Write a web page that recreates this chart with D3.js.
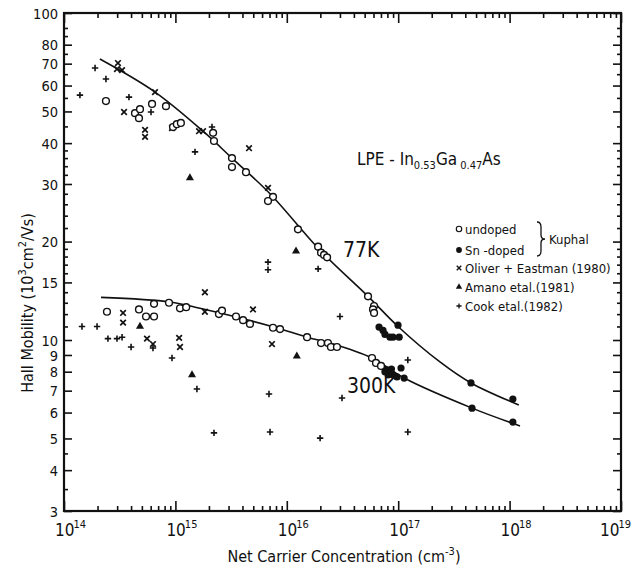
<!DOCTYPE html>
<html>
<head>
<meta charset="utf-8">
<script src="https://cdn.jsdelivr.net/npm/d3@7"></script>
<style>
  body { margin: 0; background: #fff; }
  svg text { font-family: "DejaVu Sans Condensed", "Liberation Sans Narrow", "DejaVu Sans", sans-serif; fill: #111; }
</style>
</head>
<body>
<div id="chart-area"></div>
<script>
// Hall mobility of LPE InGaAs vs net carrier concentration, 77 K and 300 K

// [concentration cm^-3, mobility 10^3 cm2/Vs]
const undoped = [
  [2.38e14, 53.8], [4.34e14, 49.4], [4.71e14, 47.7], [4.81e14, 50.8], [6.17e14, 52.7], [8.23e14, 51.9],
  [9.52e14, 44.8], [1.03e15, 45.7], [1.12e15, 46.1], [2.18e15, 43.0], [2.22e15, 40.6], [3.22e15, 36.0],
  [3.22e15, 33.8], [4.30e15, 32.6], [7.52e15, 27.4], [6.78e15, 26.6], [1.26e16, 21.8], [1.91e16, 19.3],
  [2.03e16, 18.5], [2.16e16, 18.2], [2.30e16, 17.9], [5.36e16, 13.6], [6.07e16, 12.7], [5.94e16, 12.4],
  [6.07e16, 12.1],
  [2.43e14, 12.2], [4.71e14, 12.4], [5.45e14, 11.8], [6.43e14, 11.8], [6.43e14, 12.9], [8.76e14, 13.0],
  [1.10e15, 12.5], [1.25e15, 12.6], [2.46e15, 12.0], [2.62e15, 12.3], [3.50e15, 11.8], [4.05e15, 11.5],
  [4.67e15, 11.2], [7.52e15, 10.9], [8.69e15, 10.8], [1.52e16, 10.2], [2.03e16, 9.79], [2.34e16, 9.79],
  [2.49e16, 9.52], [2.82e16, 9.52], [5.82e16, 8.81], [6.32e16, 8.51], [7.01e16, 8.33]
];
const snDoped = [
  [6.73e16, 10.95], [7.31e16, 10.7], [7.61e16, 10.4], [8.44e16, 10.2], [8.98e16, 10.2], [1.02e17, 10.2],
  [9.96e16, 11.1], [4.50e17, 7.39], [1.07e18, 6.60],
  [7.94e16, 8.10], [8.44e16, 7.98], [8.98e16, 7.82], [8.10e16, 7.82], [9.75e16, 7.71], [1.06e17, 8.21],
  [1.13e17, 7.65], [7.6e16, 8.0], [8.7e16, 8.15], [4.60e17, 6.19], [1.07e18, 5.61]
];
const oliver = [
  [3.05e14, 70.3], [2.99e14, 67.4], [3.32e14, 66.9], [6.56e14, 57.3], [3.46e14, 49.8], [5.34e14, 43.9],
  [5.34e14, 41.8], [9.32e14, 44.5], [1.63e15, 43.5], [1.77e15, 43.5], [4.58e15, 38.6], [6.78e15, 29.2],
  [3.39e14, 12.1], [3.39e14, 11.3], [5.56e14, 10.1], [6.29e14, 9.72], [1.08e15, 10.15], [1.10e15, 9.52],
  [1.84e15, 14.0], [1.84e15, 12.2], [4.97e15, 12.4], [7.36e15, 9.72]
];
const amano = [[1.35e15, 31.3], [1.21e16, 18.7], [4.81e14, 11.0], [1.41e15, 7.82], [1.23e16, 8.93]];
const cook = [
  [1.39e14, 56.1], [1.90e14, 67.9], [2.38e14, 62.8], [3.83e14, 55.3], [6.04e14, 49.8], [1.50e15, 37.6],
  [2.13e15, 44.8], [6.78e15, 17.3], [6.78e15, 16.4], [1.91e16, 16.5], [3.00e16, 11.8],
  [1.45e14, 11.0], [1.98e14, 11.0], [2.48e14, 10.1], [2.99e14, 10.1], [3.32e14, 10.2], [4.00e14, 9.52],
  [6.29e14, 9.45], [9.32e14, 8.81], [1.56e15, 7.08], [2.22e15, 5.20], [6.92e15, 6.84], [7.07e15, 5.23],
  [1.99e16, 5.01], [3.13e16, 6.65], [1.22e17, 5.23], [1.22e17, 8.69]
];
// hand-drawn fit curves
const fit77 = [
  [2.10e14, 72.3], [6.56e14, 57.3], [1.77e15, 43.5], [3.22e15, 36.0], [7.07e15, 28.0], [1.99e16, 18.8],
  [5.36e16, 13.6], [9.96e16, 11.0], [2.37e17, 8.57], [4.50e17, 7.39], [1.21e18, 6.33]
];
const fit300 = [
  [2.15e14, 13.5], [8.94e14, 13.07], [1.66e15, 12.5], [7.36e15, 11.0], [1.52e16, 10.2], [2.44e16, 9.79],
  [5.82e16, 8.81], [1.13e17, 7.65], [4.60e17, 6.19], [1.24e18, 5.46]
];

const yLabels = [3, 4, 5, 6, 7, 8, 9, 10, 15, 20, 30, 40, 50, 60, 70, 80, 100];
const yMinor = [3.5, 4.5, 11, 12, 13, 14, 16, 17, 18, 19, 22, 24, 26, 28, 32, 34, 36, 38, 45, 55, 65, 75, 85, 90];
const xDecades = [14, 15, 16, 17, 18, 19];
const xMinorMult = [2, 3, 4, 5, 6, 7, 8, 9];

const legendItems = [
  { sym: "circle", label: "undoped" },
  { sym: "dot", label: "Sn -doped" },
  { sym: "x", label: "Oliver + Eastman (1980)" },
  { sym: "tri", label: "Amano etal.(1981)" },
  { sym: "plus", label: "Cook etal.(1982)" }
];

const MARGIN = { LEFT: 64, RIGHT: 11, TOP: 13, BOTTOM: 60 };
const WIDTH = 632 - MARGIN.LEFT - MARGIN.RIGHT;
const HEIGHT = 571 - MARGIN.TOP - MARGIN.BOTTOM;

const x = d3.scaleLog().domain([1e14, 1e19]).range([0, WIDTH]);
const y = d3.scaleLog().domain([3, 100]).range([HEIGHT, 0]);

const svg = d3.select("#chart-area").append("svg")
  .attr("width", 632)
  .attr("height", 571)
  .style("background", "#fff");

const g = svg.append("g")
  .attr("transform", `translate(${MARGIN.LEFT}, ${MARGIN.TOP})`);

const majorX = xDecades.map(e => Math.pow(10, e));
const minorX = [];
xDecades.slice(0, -1).forEach(e => xMinorMult.forEach(m => minorX.push(m * Math.pow(10, e))));

function styleAxis(sel) {
  sel.select(".domain").remove();
  sel.selectAll("line").attr("stroke", "#111").attr("stroke-width", 1.6);
}

// bottom + top ticks (inward)
g.append("g").attr("transform", `translate(0, ${HEIGHT})`)
  .call(d3.axisBottom(x).tickValues(minorX).tickSize(-5).tickFormat("")).call(styleAxis);
g.append("g").attr("transform", `translate(0, ${HEIGHT})`)
  .call(d3.axisBottom(x).tickValues(majorX).tickSize(-10).tickFormat("")).call(styleAxis);
g.append("g")
  .call(d3.axisTop(x).tickValues(minorX).tickSize(-5).tickFormat("")).call(styleAxis);
g.append("g")
  .call(d3.axisTop(x).tickValues(majorX).tickSize(-10).tickFormat("")).call(styleAxis);

// left + right ticks (inward)
const leftAxis = g.append("g")
  .call(d3.axisLeft(y).tickValues(yLabels).tickSize(-8).tickPadding(6).tickFormat(d3.format("d")))
  .call(styleAxis);
leftAxis.selectAll("text").attr("font-size", 14.5).attr("dy", "0.36em");
g.append("g")
  .call(d3.axisLeft(y).tickValues(yMinor).tickSize(-4).tickFormat("")).call(styleAxis);
g.append("g").attr("transform", `translate(${WIDTH}, 0)`)
  .call(d3.axisRight(y).tickValues(yLabels).tickSize(-8).tickFormat("")).call(styleAxis);
g.append("g").attr("transform", `translate(${WIDTH}, 0)`)
  .call(d3.axisRight(y).tickValues(yMinor).tickSize(-4).tickFormat("")).call(styleAxis);

// frame
g.append("rect")
  .attr("width", WIDTH).attr("height", HEIGHT)
  .attr("fill", "none").attr("stroke", "#111").attr("stroke-width", 2.2);

// x tick labels 10^n (last one kept inside the page)
const xl = g.selectAll(".xlab").data(xDecades).enter().append("text")
  .attr("class", "xlab")
  .attr("x", d => Math.min(x(Math.pow(10, d)) - 9, WIDTH + MARGIN.RIGHT - 32))
  .attr("y", HEIGHT + 25)
  .attr("font-size", 17);
xl.append("tspan").text("10");
xl.append("tspan").attr("dy", -8).attr("dx", -1).attr("font-size", 11).text(d => d);

// fit curves
const line = d3.line()
  .x(d => x(d[0]))
  .y(d => y(d[1]))
  .curve(d3.curveCatmullRom.alpha(0.5));

[fit77, fit300].forEach(c => {
  g.append("path").datum(c)
    .attr("d", line)
    .attr("fill", "none")
    .attr("stroke", "#111")
    .attr("stroke-width", 1.6);
});

// symbols
const plusPath = "M-3.2,0H3.2M0,-3.2V3.2";
const xPath = "M-2.8,-2.8L2.8,2.8M-2.8,2.8L2.8,-2.8";
const triPath = d3.symbol().type(d3.symbolTriangle).size(28)();

function drawSym(sel, sym) {
  if (sym === "circle") {
    sel.append("circle").attr("r", 3.4).attr("fill", "#fff").attr("stroke", "#111").attr("stroke-width", 1.4);
  } else if (sym === "dot") {
    sel.append("circle").attr("r", 3.6).attr("fill", "#111");
  } else if (sym === "x") {
    sel.append("path").attr("d", xPath).attr("stroke", "#111").attr("stroke-width", 1.7);
  } else if (sym === "tri") {
    sel.append("path").attr("d", triPath).attr("fill", "#111");
  } else {
    sel.append("path").attr("d", plusPath).attr("stroke", "#111").attr("stroke-width", 1.6);
  }
}

function plotSeries(data, sym) {
  const pts = g.append("g").selectAll("g").data(data).enter().append("g")
    .attr("transform", d => `translate(${x(d[0])}, ${y(d[1])})`);
  drawSym(pts, sym);
}

plotSeries(cook, "plus");
plotSeries(oliver, "x");
plotSeries(amano, "tri");
plotSeries(undoped, "circle");
plotSeries(snDoped, "dot");

// legend
const legend = svg.append("g").attr("transform", "translate(459, 229)");
legendItems.forEach((it, i) => {
  const row = legend.append("g").attr("transform", `translate(0, ${[0, 21, 39, 58, 77][i]})`);
  drawSym(row.append("g").attr("transform", "scale(0.8)"), it.sym);
  row.append("text").attr("x", 6).attr("y", 4.5).attr("font-size", 13).text(it.label);
});
legend.append("path")
  .attr("d", "M78,-7 Q82,-7 82,-2 L82,6 Q82,10 86,10 Q82,10 82,14 L82,22 Q82,27 78,27")
  .attr("fill", "none").attr("stroke", "#111").attr("stroke-width", 1.3);
legend.append("text").attr("x", 90).attr("y", 15).attr("font-size", 13).text("Kuphal");

// annotations
const title = svg.append("text").attr("x", 357).attr("y", 165).attr("font-size", 17);
title.append("tspan").text("LPE - In");
title.append("tspan").attr("font-size", 11).attr("dy", 4).text("0.53");
title.append("tspan").attr("dy", -4).text("Ga");
title.append("tspan").attr("font-size", 11).attr("dy", 4).text(" 0.47");
title.append("tspan").attr("dy", -4).text("As");

svg.append("text").attr("x", 343).attr("y", 257).attr("font-size", 21).text("77K");
svg.append("text").attr("x", 347).attr("y", 393).attr("font-size", 21).text("300K");

// axis titles
const xt = svg.append("text")
  .attr("x", 344).attr("y", 562)
  .attr("text-anchor", "middle")
  .attr("font-size", 16);
xt.append("tspan").text("Net Carrier Concentration (cm");
xt.append("tspan").attr("dy", -7).attr("font-size", 11).text("-3");
xt.append("tspan").attr("dy", 7).text(")");

const yt = svg.append("text")
  .attr("transform", "translate(33, 303) rotate(-90)")
  .attr("text-anchor", "middle")
  .attr("font-size", 16);
yt.append("tspan").text("Hall Mobility (10");
yt.append("tspan").attr("dy", -7).attr("font-size", 11).text("3");
yt.append("tspan").attr("dy", 7).text("cm");
yt.append("tspan").attr("dy", -7).attr("font-size", 11).text("2");
yt.append("tspan").attr("dy", 7).text("/Vs)");
</script>
</body>
</html>
